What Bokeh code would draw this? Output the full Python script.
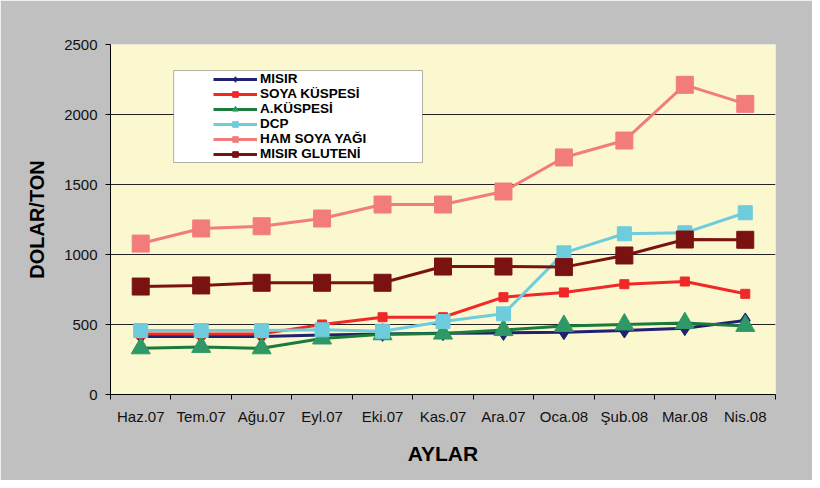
from bokeh.plotting import figure
from bokeh.models import (Range1d, FixedTicker, Legend, LegendItem, BoxAnnotation)
from bokeh.embed import file_html
from bokeh.resources import INLINE

months = ["Haz.07", "Tem.07", "Ağu.07", "Eyl.07", "Eki.07", "Kas.07",
          "Ara.07", "Oca.08", "Şub.08", "Mar.08", "Nis.08"]

misir = [415, 415, 415, 425, 433, 438, 440, 445, 457, 474, 529]
soya_kuspesi = [433, 433, 433, 500, 552, 552, 695, 729, 788, 807, 719]
a_kuspesi = [330, 340, 330, 400, 430, 435, 460, 490, 500, 510, 490]
dcp = [457, 457, 457, 462, 452, 521, 576, 1012, 1148, 1155, 1298]
ham_soya_yagi = [1078, 1186, 1202, 1257, 1357, 1357, 1450, 1693, 1814, 2212, 2076]
misir_gluteni = [771, 779, 798, 798, 798, 914, 914, 910, 993, 1107, 1105]

y_ticks = [0, 500, 1000, 1500, 2000, 2500]
grid_ticks = [500, 1000, 1500, 2000]

FONT = "Liberation Sans"

x = [i + 0.5 for i in range(len(months))]

p = figure(frame_width=665, frame_height=350,
           min_border_left=110, min_border_right=37,
           min_border_top=44, min_border_bottom=86,
           x_range=Range1d(0, len(months)), y_range=Range1d(0, 2500),
           output_backend="svg", toolbar_location=None)

p.background_fill_color = "#FBF8D0"
p.border_fill_color = "#C0C0C0"
p.outline_line_color = None

# axes
xa = p.xaxis[0]
xa.ticker = FixedTicker(ticks=x, minor_ticks=list(range(len(months) + 1)))
xa.major_label_overrides = {xi: m for xi, m in zip(x, months)}
xa.major_tick_line_color = None
xa.major_tick_out = 0
xa.major_tick_in = 0
xa.minor_tick_out = 5
xa.minor_tick_in = 0
xa.minor_tick_line_color = "black"
xa.axis_line_color = "black"
xa.major_label_standoff = 8
xa.major_label_text_font = FONT
xa.major_label_text_font_size = "15px"
xa.major_label_text_color = "#111111"
xa.axis_label = "AYLAR"
xa.axis_label_text_font = FONT
xa.axis_label_text_font_style = "bold"
xa.axis_label_text_font_size = "21px"
xa.axis_label_text_color = "#000000"
xa.axis_label_standoff = 14

ya = p.yaxis[0]
ya.ticker = FixedTicker(ticks=y_ticks)
ya.minor_tick_line_color = None
ya.major_tick_out = 5
ya.major_tick_in = 0
ya.major_tick_line_color = "black"
ya.axis_line_color = "black"
ya.major_label_standoff = 8
ya.major_label_text_font = FONT
ya.major_label_text_font_size = "15px"
ya.major_label_text_color = "#111111"
ya.axis_label = "DOLAR/TON"
ya.axis_label_text_font = FONT
ya.axis_label_text_font_style = "bold"
ya.axis_label_text_font_size = "20px"
ya.axis_label_text_color = "#000000"
ya.axis_label_standoff = 13

p.xgrid.grid_line_color = None
p.ygrid.ticker = FixedTicker(ticks=grid_ticks)
p.ygrid.grid_line_color = "#222222"
p.ygrid.grid_line_width = 1

series = [
    ("MISIR", misir, "#1F2270", "diamond", 15, "#1F2270", 3),
    ("SOYA KÜSPESİ", soya_kuspesi, "#F02828", "square", 9, "#F02828", 3),
    ("A.KÜSPESİ", a_kuspesi, "#1B7A3C", "triangle", 19, "#2E9966", 3),
    ("DCP", dcp, "#6ECCDC", "square", 14, "#6ECCDC", 3),
    ("HAM SOYA YAĞI", ham_soya_yagi, "#F27C7C", "square", 17, "#F27C7C", 3),
    ("MISIR GLUTENİ", misir_gluteni, "#7A1212", "square", 17, "#7A1212", 3),
]

items = []
for name, vals, lc, marker, size, mc, lw in series:
    r1 = p.line(x, vals, line_color=lc, line_width=lw)
    r2 = p.scatter(x, vals, marker=marker, size=size, fill_color=mc, line_color=mc)
    items.append(LegendItem(label=name, renderers=[r1, r2]))

box = BoxAnnotation(left=1.045, right=5.16, top=2314, bottom=1657,
                    fill_color="white", fill_alpha=1.0,
                    line_color="black", line_width=1)
p.add_layout(box)

legend = Legend(items=items, location=(103, 233),
                background_fill_alpha=0, border_line_color=None,
                padding=0, margin=0, spacing=0,
                glyph_width=44, glyph_height=14, label_height=14,
                label_standoff=3,
                label_text_font=FONT, label_text_font_style="bold",
                label_text_font_size="13.5px",
                label_text_color="#000000")
p.add_layout(legend)

open("out.html", "w").write(file_html(p, INLINE))
